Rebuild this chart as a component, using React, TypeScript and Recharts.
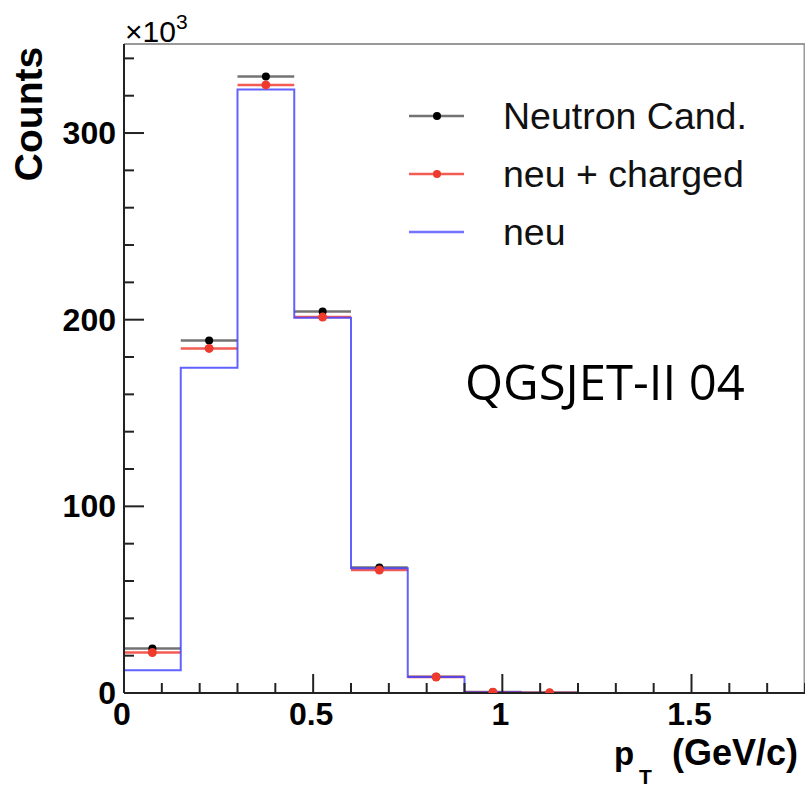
import React from 'react'
import {
  ComposedChart,
  Line,
  Scatter,
  ErrorBar,
  XAxis,
  YAxis,
  Legend,
  ReferenceLine,
} from 'recharts'

// histogram binning in pT (GeV/c)
const BIN_EDGES = [0, 0.15, 0.3, 0.45, 0.6, 0.75, 0.9, 1.05, 1.2, 1.35, 1.5, 1.65, 1.8]

// counts in units of 10^3, only filled bins get markers
const NEUTRON_CAND = [23.8, 188.9, 330.3, 204.4, 67.3, 8.7, 0.5, 0.1]
const NEU_CHARGED = [21.7, 184.6, 325.8, 201.4, 65.9, 8.6, 0.45, 0.1]
const NEU = [12.2, 174.2, 323.3, 201.1, 66.8, 8.6, 0.4, 0.1, 0, 0, 0, 0]

const X_TICKS = [0, 0.1, 0.2, 0.3, 0.4, 0.5, 0.6, 0.7, 0.8, 0.9, 1, 1.1, 1.2, 1.3, 1.4, 1.5, 1.6, 1.7, 1.8]
const X_LABELS: Record<string, string> = { '0': '0', '0.5': '0.5', '1': '1', '1.5': '1.5' }
const Y_TICKS = [0, 20, 40, 60, 80, 100, 120, 140, 160, 180, 200, 220, 240, 260, 280, 300, 320, 340]
const Y_MAJOR = [0, 100, 200, 300]

const X_MAX = 1.8
const Y_MAX = 347.7

const LEGEND_ITEMS = [
  { name: 'Neutron Cand.', color: 'rgba(0,0,0,0.55)', dot: '#000', marker: true },
  { name: 'neu + charged', color: 'rgba(240,50,40,0.8)', dot: '#ee3b2e', marker: true },
  { name: 'neu', color: 'rgba(80,80,255,0.8)', dot: '', marker: false },
]

const stepData = BIN_EDGES.map((x, i) => ({ x, neu: i < NEU.length ? NEU[i] : 0 }))

const toPoints = (values: number[]) =>
  values.map((y, i) => ({
    x: (BIN_EDGES[i] + BIN_EDGES[i + 1]) / 2,
    y,
    xerr: (BIN_EDGES[i + 1] - BIN_EDGES[i]) / 2,
  }))

const candPoints = toPoints(NEUTRON_CAND)
const chargedPoints = toPoints(NEU_CHARGED)

const AXIS = '#222'
const TICK_FONT = '"Liberation Sans", Arial, sans-serif'

const XTick = (props: any) => {
  const { x, y, payload } = props
  const key = String(Math.round(payload.value * 10) / 10)
  const label = X_LABELS[key]
  return (
    <g>
      <line x1={x} x2={x} y1={y} y2={y - (label ? 19 : 10)} stroke={AXIS} strokeWidth={2} />
      {label && (
        <text x={x - 2} y={y + 32} textAnchor="middle" fontFamily={TICK_FONT} fontWeight="bold" fontSize={32} fill="#000">
          {label}
        </text>
      )}
    </g>
  )
}

const YTick = (props: any) => {
  const { x, y, payload } = props
  const major = Y_MAJOR.includes(payload.value)
  return (
    <g>
      <line x1={x} x2={x + (major ? 20 : 10)} y1={y} y2={y} stroke={AXIS} strokeWidth={2} />
      {major && (
        <text x={x - 8} y={y + 11} textAnchor="end" fontFamily={TICK_FONT} fontWeight="bold" fontSize={32} fill="#000">
          {payload.value}
        </text>
      )}
    </g>
  )
}

const yLabel = () => (
  <g>
    <text
      transform="translate(42,114) rotate(-90)"
      textAnchor="middle"
      fontFamily={TICK_FONT}
      fontWeight="bold"
      fontSize={39}
      fill="#000"
    >
      Counts
    </text>
    <text x={125} y={42} fontFamily={TICK_FONT} fontSize={30} fill="#000">
      ×10<tspan fontSize={21} dy={-13}>3</tspan>
    </text>
  </g>
)

const xLabel = () => (
  <g fontFamily={TICK_FONT} fontWeight="bold" fill="#000">
    <text x={614} y={765} fontSize={33}>p</text>
    <text x={639} y={784} fontSize={21}>T</text>
    <text x={798} y={765} fontSize={36} textAnchor="end">(GeV/c)</text>
    <text x={465} y={400} fontFamily='"Open Sans", sans-serif' fontWeight="normal" fontSize={49}>
      QGSJET-II 04
    </text>
  </g>
)

const renderLegend = () => (
  <svg width={390} height={180}>
    {LEGEND_ITEMS.map((item, i) => {
      const cy = 36 + i * 58
      return (
        <g key={item.name}>
          <line x1={9} x2={64} y1={cy} y2={cy} stroke={item.color} strokeWidth={2.5} />
          {item.marker && <circle cx={37} cy={cy} r={4} fill={item.dot} />}
          <text x={103} y={cy + 13} fontFamily={TICK_FONT} fontSize={37.5} fill="#111">
            {item.name}
          </text>
        </g>
      )
    })}
  </svg>
)

const dot = (color: string, r: number) => (props: any) =>
  <circle cx={props.cx} cy={props.cy} r={r} fill={color} />

export default function App() {
  return (
    <div style={{ position: 'absolute', left: 0, top: 0, width: 805, height: 787, background: '#fff' }}>
      <ComposedChart width={805} height={787} margin={{ top: 44, right: 0, bottom: 0, left: 0 }}>
        <XAxis
          dataKey="x"
          type="number"
          domain={[0, X_MAX]}
          ticks={X_TICKS}
          interval={0}
          tick={<XTick />}
          tickLine={false}
          tickSize={0}
          tickMargin={0}
          height={94}
          axisLine={{ stroke: AXIS, strokeWidth: 2 }}
          label={xLabel}
        />
        <YAxis
          type="number"
          domain={[0, Y_MAX]}
          ticks={Y_TICKS}
          interval={0}
          tick={<YTick />}
          tickLine={false}
          tickSize={0}
          tickMargin={0}
          width={124}
          axisLine={{ stroke: AXIS, strokeWidth: 2 }}
          allowDataOverflow
          label={yLabel}
        />
        <ReferenceLine y={Y_MAX} stroke="#999" strokeWidth={2} />
        <ReferenceLine x={X_MAX} stroke="#999" strokeWidth={3} />
        <Scatter data={candPoints} dataKey="y" name="Neutron Cand." shape={dot('#000', 4)} isAnimationActive={false}>
          <ErrorBar dataKey="xerr" direction="x" width={0} stroke="rgba(0,0,0,0.55)" strokeWidth={2.5} />
        </Scatter>
        <Scatter data={chargedPoints} dataKey="y" name="neu + charged" shape={dot('#ee3b2e', 4.5)} isAnimationActive={false}>
          <ErrorBar dataKey="xerr" direction="x" width={0} stroke="rgba(240,50,40,0.8)" strokeWidth={2.5} />
        </Scatter>
        <Line
          data={stepData}
          dataKey="neu"
          type="stepAfter"
          stroke="rgba(70,70,255,0.85)"
          strokeWidth={2}
          dot={false}
          activeDot={false}
          isAnimationActive={false}
        />
        <Legend
          layout="vertical"
          align="center"
          verticalAlign="middle"
          content={renderLegend}
          wrapperStyle={{ left: 400, top: 80, width: 390, height: 180 }}
        />
      </ComposedChart>
    </div>
  )
}
